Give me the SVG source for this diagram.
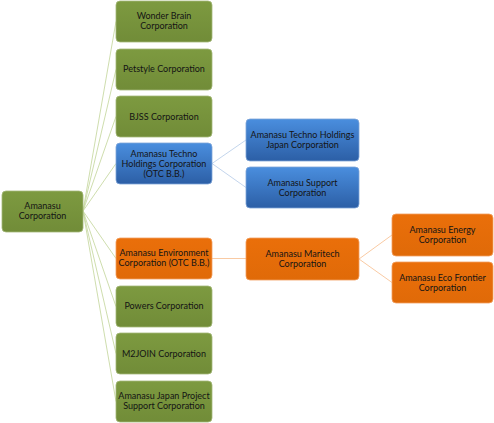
<svg xmlns="http://www.w3.org/2000/svg" width="494" height="423" viewBox="0 0 494 423">
<defs>
<linearGradient id="gBlue" x1="0" y1="0" x2="0" y2="1">
<stop offset="0" stop-color="#4a8ede"/>
<stop offset="1" stop-color="#2c5fa6"/>
</linearGradient>
<linearGradient id="gGreen" x1="0" y1="0" x2="0" y2="1">
<stop offset="0" stop-color="#7d9a40"/>
<stop offset="1" stop-color="#718c38"/>
</linearGradient>
<linearGradient id="gOrange" x1="0" y1="0" x2="0" y2="1">
<stop offset="0" stop-color="#ea6f0a"/>
<stop offset="1" stop-color="#e06a08"/>
</linearGradient>
</defs>
<style>
rect{stroke-width:0.8}
.g{fill:url(#gGreen);stroke:#a3b878}
.b{fill:url(#gBlue);stroke:#7fa5d8}
.o{fill:url(#gOrange);stroke:#f2a060}
text{font-family:"Lato","Liberation Sans",sans-serif;font-size:9px;fill:#141414;text-anchor:middle}
.cg{stroke:#c8d9a4;stroke-width:0.9;fill:none}
.cb{stroke:#bcd0ea;stroke-width:0.9;fill:none}
.co{stroke:#f8c498;stroke-width:0.9;fill:none}
</style>
<rect width="494" height="423" fill="#ffffff"/>
<g id="connectors">
<path class="cg" d="M83 211 L116 21.5 M83 211 L116 69.5 M83 211 L116 116.5 M83 211 L116 163.5 M83 211 L116 258.5 M83 211 L116 306.5 M83 211 L116 353.5 M83 211 L116 401.5"/>
<path class="cb" d="M212 163.5 L246 140 M212 163.5 L246 187.5"/>
<path class="co" d="M212 258.5 L246 258.5"/>
<path class="co" d="M359 259 L392 235 M359 259 L392 282.5"/>
</g>
<g id="n-root"><rect class="g" x="2" y="191" width="81" height="41" rx="4"/><text x="42.5" y="209">Amanasu</text><text x="42.5" y="219">Corporation</text></g>
<g id="n-wonder"><rect class="g" x="116" y="1" width="96" height="41" rx="4"/><text x="164" y="19">Wonder Brain</text><text x="164" y="29">Corporation</text></g>
<g id="n-petstyle"><rect class="g" x="116" y="49" width="96" height="41" rx="4"/><text x="164" y="72">Petstyle Corporation</text></g>
<g id="n-bjss"><rect class="g" x="116" y="96" width="96" height="41" rx="4"/><text x="164" y="119.5">BJSS Corporation</text></g>
<g id="n-techno"><rect class="b" x="116" y="143" width="96" height="41" rx="4"/><text x="164" y="157">Amanasu Techno</text><text x="164" y="167">Holdings Corporation</text><text x="164" y="177">(OTC B.B.)</text></g>
<g id="n-env"><rect class="o" x="116" y="238" width="96" height="41" rx="4"/><text x="164" y="256">Amanasu Environment</text><text x="164" y="266">Corporation (OTC B.B.)</text></g>
<g id="n-powers"><rect class="g" x="116" y="286" width="96" height="41" rx="4"/><text x="164" y="309">Powers Corporation</text></g>
<g id="n-m2join"><rect class="g" x="116" y="333" width="96" height="41" rx="4"/><text x="164" y="356.5">M2JOIN Corporation</text></g>
<g id="n-jpsupport"><rect class="g" x="116" y="381" width="96" height="41" rx="4"/><text x="164" y="399">Amanasu Japan Project</text><text x="164" y="409">Support Corporation</text></g>
<g id="n-technojapan"><rect class="b" x="246" y="119" width="113" height="42" rx="4"/><text x="302.5" y="138">Amanasu Techno Holdings</text><text x="302.5" y="148">Japan Corporation</text></g>
<g id="n-support"><rect class="b" x="246" y="167" width="113" height="41" rx="4"/><text x="302.5" y="185.5">Amanasu Support</text><text x="302.5" y="195.5">Corporation</text></g>
<g id="n-maritech"><rect class="o" x="246" y="238" width="113" height="42" rx="4"/><text x="302.5" y="256.5">Amanasu Maritech</text><text x="302.5" y="266.5">Corporation</text></g>
<g id="n-energy"><rect class="o" x="392" y="214" width="101" height="42" rx="4"/><text x="442.5" y="232.5">Amanasu Energy</text><text x="442.5" y="242.5">Corporation</text></g>
<g id="n-eco"><rect class="o" x="392" y="262" width="101" height="41" rx="4"/><text x="442.5" y="280.5">Amanasu Eco Frontier</text><text x="442.5" y="290.5">Corporation</text></g>
</svg>
